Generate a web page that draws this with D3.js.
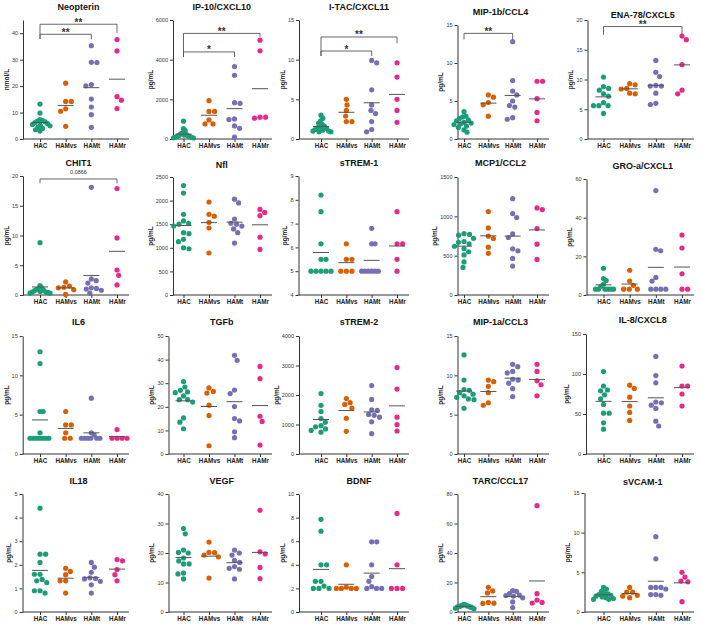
<!DOCTYPE html>
<html>
<head>
<meta charset="utf-8">
<script src="https://cdn.jsdelivr.net/npm/d3@7"></script>
<style>
body { margin: 0; background: #fff; }
svg text { font-family: "Liberation Sans", Arial, Helvetica, sans-serif; }
</style>
</head>
<body>
<svg id="chart" width="702" height="627"></svg>
<script>
// groups and colours
const groups = ["HAC", "HAMvs", "HAMt", "HAMr"];
const groupColors = ["#1b9e77", "#d95f02", "#7570b3", "#e7298a"];

const titles = ["Neopterin", "IP-10/CXCL10", "I-TAC/CXCL11", "MIP-1b/CCL4", "ENA-78/CXCL5",
    "CHIT1", "Nfl", "sTREM-1", "MCP1/CCL2", "GRO-a/CXCL1",
    "IL6", "TGFb", "sTREM-2", "MIP-1a/CCL3", "IL-8/CXCL8",
    "IL18", "VEGF", "BDNF", "TARC/CCL17", "sVCAM-1"];
const units = ["nmol/L", "pg/mL", "pg/mL", "pg/mL", "pg/mL",
    "pg/mL", "pg/mL", "pg/mL", "pg/mL", "pg/mL",
    "pg/mL", "pg/mL", "pg/mL", "pg/mL", "pg/mL",
    "pg/mL", "pg/mL", "pg/mL", "pg/mL", "pg/mL"];
const yDomains = [[0, 45], [0, 6000], [0, 15], [0, 15], [0, 20],
    [0, 20], [0, 2500], [4, 9], [0, 1500], [0, 60],
    [0, 15], [0, 50], [0, 4000], [0, 15], [0, 150],
    [0, 5], [0, 40], [0, 10], [0, 80], [0, 15]];
const yTicks = [[0, 10, 20, 30, 40], [0, 2000, 4000, 6000], [0, 5, 10, 15], [0, 5, 10, 15], [0, 5, 10, 15, 20],
    [0, 5, 10, 15, 20], [0, 500, 1000, 1500, 2000, 2500], [4, 5, 6, 7, 8, 9], [0, 500, 1000, 1500], [0, 20, 40, 60],
    [0, 5, 10, 15], [0, 10, 20, 30, 40, 50], [0, 1000, 2000, 3000, 4000], [0, 5, 10, 15], [0, 50, 100, 150],
    [0, 1, 2, 3, 4, 5], [0, 10, 20, 30, 40], [0, 2, 4, 6, 8, 10], [0, 20, 40, 60, 80], [0, 5, 10, 15]];

// values per panel: HAC, HAMvs, HAMt, HAMr
const neopterin = [[13.2, 9.8, 7.3, 7.0, 6.8, 6.5, 6.2, 5.8, 5.5, 5.2, 5.0, 4.5, 4.0, 3.5, 3.0],
    [21.1, 14.2, 14.2, 11.4, 10.5, 4.8], [35.3, 28.9, 29.0, 20.1, 20.6, 15.1, 12.1, 9.2, 4.4], [37.6, 33.3, 16.0, 14.7, 11.5]];
const ip10 = [[900, 520, 420, 300, 260, 220, 200, 180, 150, 130, 120, 100, 80, 60, 50],
    [1930, 1390, 1390, 960, 760, 760], [3650, 3210, 1800, 1830, 1010, 980, 660, 540, 90], [4985, 4445, 1050, 1100, 1100]];
const itac = [[3.0, 2.6, 2.3, 2.0, 1.8, 1.6, 1.5, 1.4, 1.3, 1.2, 1.1, 1.0, 1.0, 0.9, 0.9],
    [5.0, 4.3, 3.6, 2.9, 2.2, 2.2], [9.6, 9.9, 6.2, 4.3, 3.6, 3.2, 2.2, 1.2, 0.9], [9.6, 7.8, 5.0, 3.6, 2.1]];
const mip1b = [[3.6, 3.0, 2.9, 2.7, 2.5, 2.4, 2.2, 2.1, 2.0, 1.9, 1.7, 1.5, 1.2, 0.9],
    [5.8, 5.5, 4.8, 4.5, 3.0], [12.8, 7.7, 6.3, 5.8, 5.0, 4.4, 4.2, 2.8, 2.6], [7.6, 7.6, 5.3, 3.5, 2.4]];
const ena78 = [[10.4, 8.8, 8.5, 8.2, 7.6, 7.2, 6.1, 5.6, 5.6, 5.6, 4.3],
    [9.3, 9.1, 8.5, 8.4, 7.6, 7.7], [13.2, 11.2, 10.5, 9.0, 8.9, 8.9, 7.7, 6.0, 5.8], [17.3, 16.7, 12.5, 8.2, 7.6]];
const chit1 = [[8.8, 1.6, 1.2, 1.0, 0.9, 0.8, 0.7, 0.6, 0.5, 0.5, 0.4, 0.3, 0.3],
    [2.2, 1.5, 1.3, 1.2, 0.9, 0.1], [18.1, 2.7, 2.4, 2.0, 1.2, 1.1, 1.0, 0.8, 0.3], [17.9, 9.6, 4.2, 3.3, 1.7]];
const nfl = [[2320, 2160, 1710, 1570, 1520, 1500, 1460, 1320, 1300, 1180, 1130, 1000, 980],
    [1970, 1710, 1670, 1540, 1420, 890], [2030, 1950, 1610, 1520, 1500, 1460, 1400, 1320, 1100], [1813, 1750, 1680, 1225, 966]];
const strem1 = [[8.2, 7.5, 6.15, 5.5, 5.5, 5, 5, 5, 5, 5],
    [6.15, 5.5, 5.5, 5, 5, 5], [6.8, 6.15, 6.15, 5, 5, 5, 5, 5, 5], [7.5, 6.15, 6.15, 5.5, 5]];
const mcp1 = [[780, 770, 760, 720, 680, 670, 650, 620, 590, 550, 510, 420, 350],
    [1060, 853, 748, 718, 608, 528], [1225, 1035, 985, 777, 731, 587, 562, 465, 368], [1107, 1086, 845, 646, 452]];
const groa = [[13.8, 8.5, 7.5, 5.5, 4.5, 3, 3, 3, 3, 3, 3],
    [12.8, 7.2, 5.0, 3, 3, 3], [54, 23.6, 22.9, 9.1, 7.2, 3, 3, 3, 3], [31, 24.3, 11, 3, 3]];
const il6 = [[13, 11.5, 5.4, 5.4, 2.7, 2, 2, 2, 2, 2, 2, 2],
    [5.4, 3.7, 3.7, 2.7, 2, 2], [7.1, 2.7, 2.4, 2, 2, 2, 2, 2, 2], [3.1, 2, 2, 2, 2]];
const tgfb = [[30.7, 28.4, 27, 26.3, 26, 24.6, 23, 23, 22, 15.3, 13.5, 10.7],
    [28, 26.5, 25.8, 20.7, 16.3, 3.5], [41.8, 39.7, 27.1, 25.6, 20.1, 15, 14, 9.4, 6.9], [37.1, 31.9, 16.0, 13.8, 3.8]];
const strem2 = [[2050, 1650, 1440, 1200, 1080, 960, 920, 850, 800, 740],
    [1880, 1740, 1680, 1560, 1210, 770], [2320, 1850, 1500, 1480, 1340, 1310, 1250, 1090, 690], [2930, 2200, 1250, 1000, 780]];
const mip1a = [[12.6, 9.4, 8.2, 8.1, 7.8, 7.6, 7.4, 7.2, 7.0, 6.9, 5.8],
    [9.4, 9.2, 8.6, 7.8, 6.5, 6.2], [11.4, 11.1, 10.5, 10.3, 9.5, 9.4, 9.0, 8.3, 7.3], [11.4, 10.5, 9.3, 8.8, 7.4]];
const il8 = [[103, 85, 80, 79, 74, 69, 62, 51, 51, 39, 31],
    [86, 82, 71, 60, 52, 42], [122, 98, 89, 65, 64, 61, 57, 41, 35], [110, 85, 85, 75, 60]];
const il18 = [[4.4, 2.45, 2.45, 2.1, 1.6, 1.6, 1.38, 1.32, 1.25, 0.9, 0.9, 0.8],
    [1.85, 1.72, 1.58, 1.32, 1.32, 0.8], [2.1, 1.9, 1.68, 1.45, 1.42, 1.4, 1.3, 1.15, 0.8], [2.22, 2.17, 1.8, 1.58, 1.32]];
const vegf = [[28.3, 26.5, 21, 20.2, 20, 18.3, 17.3, 16.3, 16.3, 13.2, 12.9, 11.2],
    [23.7, 20.2, 20.1, 19.3, 18.7, 11.5], [21, 20, 19.3, 17.5, 16.8, 15.4, 14.8, 14.5, 11.2], [34.5, 20.4, 19.7, 15.1, 11.3]];
const bdnf = [[7.85, 6.85, 4, 4, 2.6, 2.6, 2.2, 2, 2, 2],
    [4, 2.1, 2, 2, 2, 2], [5.95, 5.95, 4, 3, 2.6, 2.15, 2, 2, 2], [8.35, 4, 2, 2, 2]];
const tarc = [[5.2, 4.9, 4.6, 4.4, 4.2, 4.0, 3.8, 3.6, 3.5, 3.3, 3.1, 2.8, 2.5, 2.2],
    [16.7, 14.3, 12.9, 6.5, 6.0, 5.8], [14.5, 14.0, 12.5, 11.5, 11.2, 10.8, 9.6, 6.8, 3.0], [72.1, 12.4, 8.1, 6.5, 6.1]];
const svcam1 = [[3.1, 2.9, 2.6, 2.4, 2.3, 2.2, 2.1, 2.0, 1.9, 1.8, 1.7, 1.6, 1.6],
    [3.1, 2.5, 2.5, 2.1, 2.0, 1.8], [9.5, 6.7, 3.1, 3.1, 3.1, 2.9, 2.2, 2.2, 2.1], [5.0, 4.4, 3.9, 3.8, 1.3]];

const panelValues = [neopterin, ip10, itac, mip1b, ena78,
    chit1, nfl, strem1, mcp1, groa,
    il6, tgfb, strem2, mip1a, il8,
    il18, vegf, bdnf, tarc, svcam1];

// significance brackets: panel, from group, to group, level, left leg end, right leg end (axis units), label
const brackets = [
    [0, 0, 3, 43.4, 37.8, 40.1, "**"],
    [0, 0, 2, 39.6, 37.8, 37.7, "**"],
    [1, 0, 3, 5324, 4137, 5160, "**"],
    [1, 0, 2, 4390, 4137, 4137, "*"],
    [2, 0, 3, 12.86, 10.46, 12.06, "**"],
    [2, 0, 2, 11.09, 10.46, 10.46, "*"],
    [3, 0, 2, 13.9, 13.1, 13.1, "**"],
    [4, 0, 3, 18.9, 17.5, 17.5, "**"],
    [5, 0, 3, 19.5, 18.77, 18.77, "0.0866"]
];

// layout of the 4 x 5 grid
const axisXs = [23, 173, 299, 457.5, 587.5,
    23, 173, 298.5, 457.5, 586.5,
    22.7, 168.5, 299, 457.5, 586,
    22.5, 168.5, 299, 457.5, 584.5];
const hacXs = [40, 183.5, 321, 464, 603.5];
const hamrXs = [117, 260, 397, 537, 682];
const rowBottoms = [139, 295, 454, 612];
const axisTops = [20, 20, 20, 25, 20,
    176, 177, 176, 177, 179,
    336, 336, 336, 336, 334,
    494, 494, 494, 494, 493];
const titleYs = [6.7, 6.7, 7.3, 11.7, 15,
    163.3, 165, 163.3, 163.3, 165.7,
    322.3, 322.3, 322.3, 322.3, 320,
    480.7, 480.7, 480.7, 480.7, 481.7];

const axisColor = "#333";
const dotR = 2.6;

const svg = d3.select("#chart");

// greedy beeswarm: each dot goes to the free spot nearest the centre
function spreadDots(vals, y, cx) {
    const D = 5.6, maxHalf = 10;
    const pts = vals.map(v => ({v: v, py: y(v)})).sort((a, b) => a.py - b.py);
    const placed = [];
    let side = 1;
    pts.forEach(function (p) {
        const blocks = placed.filter(q => Math.abs(q.py - p.py) < D).map(function (q) {
            const w = Math.sqrt(D * D - (q.py - p.py) * (q.py - p.py));
            return [q.dx - w, q.dx + w];
        });
        const cands = [0];
        blocks.forEach(b => { cands.push(b[0], b[1]); });
        const free = cands.filter(c => blocks.every(b => c <= b[0] + 1e-6 || c >= b[1] - 1e-6));
        free.sort(function (a, b) {
            const da = Math.round(Math.abs(a) * 100), db = Math.round(Math.abs(b) * 100);
            if (da !== db) return da - db;
            return (Math.sign(b) === side) - (Math.sign(a) === side);
        });
        p.dx = free[0];
        if (Math.abs(p.dx) > 1e-6) side = -Math.sign(p.dx);
        placed.push(p);
    });
    const widest = d3.max(pts, p => Math.abs(p.dx));
    const k = widest > maxHalf ? maxHalf / widest : 1;
    pts.forEach(p => { p.px = cx + p.dx * k; });
    return pts;
}

panelValues.forEach(function (vals, i) {
    const col = i % 5, row = Math.floor(i / 5);
    const g = svg.append("g");
    const axisX = axisXs[i];
    const bottom = rowBottoms[row];

    const x = d3.scalePoint().domain(groups).range([hacXs[col], hamrXs[col]]);
    const y = d3.scaleLinear().domain(yDomains[i]).range([bottom, axisTops[i]]);

    // title
    g.append("text")
        .attr("x", (hacXs[col] + hamrXs[col]) / 2)
        .attr("y", titleYs[i])
        .attr("dy", "0.35em")
        .attr("text-anchor", "middle")
        .style("font-size", "9px")
        .style("font-weight", "bold")
        .attr("fill", "#111")
        .text(titles[i]);

    // y axis
    const yAxis = g.append("g")
        .attr("transform", "translate(" + axisX + ",0)")
        .call(d3.axisLeft(y).tickValues(yTicks[i]).tickSize(3).tickSizeOuter(0).tickPadding(2).tickFormat(d3.format("d")));
    yAxis.select(".domain").attr("stroke", axisColor).attr("stroke-width", 1);
    yAxis.selectAll(".tick line").attr("stroke", axisColor);
    yAxis.selectAll(".tick text")
        .attr("fill", "#333")
        .style("font-size", "5.5px")
        .style("font-family", "'Liberation Sans', Arial, sans-serif");

    // x axis
    g.append("line")
        .attr("x1", axisX).attr("x2", hamrXs[col] + 12)
        .attr("y1", bottom).attr("y2", bottom)
        .attr("stroke", axisColor).attr("stroke-width", 1);
    const xAxis = g.append("g")
        .attr("transform", "translate(0," + bottom + ")")
        .call(d3.axisBottom(x).tickSize(3).tickPadding(2));
    xAxis.select(".domain").remove();
    xAxis.selectAll(".tick line").attr("stroke", axisColor);
    xAxis.selectAll(".tick text")
        .attr("fill", "#222")
        .style("font-size", "6.3px")
        .style("font-weight", "bold")
        .style("font-family", "'Liberation Sans', Arial, sans-serif");

    // y label, placed left of the widest tick label
    let minX = axisX;
    yAxis.selectAll(".tick text").each(function () {
        const b = this.getBBox();
        minX = Math.min(minX, axisX + b.x);
    });
    g.append("text")
        .attr("transform", "translate(" + (minX - 3) + "," + ((bottom + axisTops[i]) / 2) + ") rotate(-90)")
        .attr("text-anchor", "middle")
        .style("font-size", "6.5px")
        .style("font-weight", "bold")
        .attr("fill", "#222")
        .text(units[i]);

    // dots and mean lines
    vals.forEach(function (gv, gi) {
        const cx = x(groups[gi]);
        const pts = spreadDots(gv, y, cx);
        g.selectAll(null)
            .data(pts)
            .enter()
            .append("circle")
            .attr("cx", d => d.px)
            .attr("cy", d => d.py)
            .attr("r", dotR)
            .attr("fill", groupColors[gi]);
        const m = d3.mean(gv);
        g.append("line")
            .attr("x1", cx - 8).attr("x2", cx + 8)
            .attr("y1", y(m)).attr("y2", y(m))
            .attr("stroke", "#555").attr("stroke-width", 1);
    });
});

// brackets
brackets.forEach(function (b) {
    const i = b[0], col = i % 5, row = Math.floor(i / 5);
    const x = d3.scalePoint().domain(groups).range([hacXs[col], hamrXs[col]]);
    const y = d3.scaleLinear().domain(yDomains[i]).range([rowBottoms[row], axisTops[i]]);
    const x1 = x(groups[b[1]]), x2 = x(groups[b[2]]);
    const yt = y(b[3]);
    svg.append("path")
        .attr("d", "M" + x1 + "," + y(b[4]) + "V" + yt + "H" + x2 + "V" + y(b[5]))
        .attr("fill", "none")
        .attr("stroke", "#555")
        .attr("stroke-width", 0.9);
    const isStar = b[6].indexOf("*") === 0;
    svg.append("text")
        .attr("x", (x1 + x2) / 2)
        .attr("y", isStar ? yt + 1.5 : yt - 4.5)
        .attr("text-anchor", "middle")
        .style("font-size", isStar ? "10px" : "5.5px")
        .style("font-weight", isStar ? "bold" : "normal")
        .attr("fill", "#333")
        .text(b[6]);
});
</script>
</body>
</html>
